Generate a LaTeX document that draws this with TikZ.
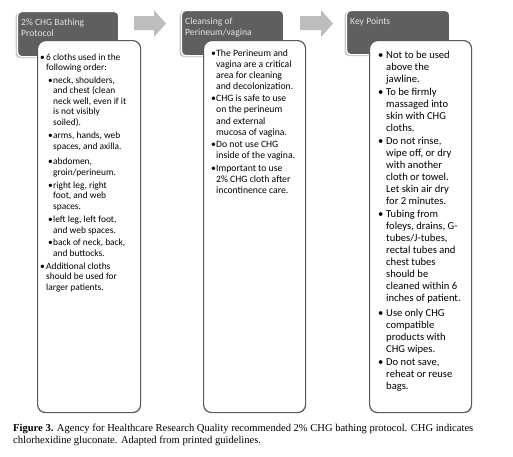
\documentclass[tikz,border=0pt]{standalone}
\usepackage{fontspec}
\setmainfont{Liberation Serif}
\newfontfamily\cfont{Carlito}
\definecolor{hdrgray}{HTML}{5F5F5F}
\definecolor{hdrtext}{HTML}{E4E4E4}
\definecolor{boxline}{HTML}{595959}
\definecolor{arrowgray}{HTML}{BDBDBD}
\definecolor{shadowgray}{HTML}{C8C8C8}
\newcommand\fstrut{\rule{0pt}{8pt}}
\newcommand\bA[1]{\makebox[6pt][l]{\textbullet}#1}
\newcommand\cA[1]{\hspace*{6pt}#1}
\newcommand\bB[1]{\hspace*{8pt}\makebox[5pt][l]{\textbullet}#1}
\newcommand\cB[1]{\hspace*{13pt}#1}
\newcommand\bC[1]{\makebox[8pt][l]{\textbullet}#1}
\newcommand\cC[1]{\hspace*{8pt}#1}
\begin{document}
\begin{tikzpicture}[x=1pt,y=-1pt,
  hdr/.style={fill=hdrgray, draw=white, line width=1.2pt, rounded corners=4pt, anchor=north west, inner sep=0pt},
  hdrshadow/.style={fill=shadowgray, rounded corners=4pt},
  hdrlabel/.style={anchor=north west, inner sep=0pt, align=left, text=hdrtext, font=\cfont\fontsize{9.6}{10.8}\selectfont},
  bodybox/.style={fill=white, draw=boxline, line width=1.2pt, rounded corners=8pt, anchor=north west, inner sep=0pt},
  bodytext/.style={anchor=north west, inner sep=0pt, align=left, text=black},
  caption/.style={anchor=north west, inner sep=0pt, align=left, font=\fontsize{10.55}{12}\selectfont}]
\useasboundingbox (0,0) rectangle (513,456);
\fill[white] (0,0) rectangle (513,456);

% header boxes with soft shadow
\fill[hdrshadow] (15.5,12.5) rectangle (117,58);
\node[hdr, minimum width=101pt, minimum height=45pt] (h1) at (17,11) {};
\fill[hdrshadow] (179.5,11.5) rectangle (282,57);
\node[hdr, minimum width=102pt, minimum height=45pt] (h2) at (181,10) {};
\fill[hdrshadow] (344.5,11.5) rectangle (448,56);
\node[hdr, minimum width=103pt, minimum height=44pt] (h3) at (346,10) {};

\node[hdrlabel] (h1t) at (21,17) {\fstrut 2\% CHG Bathing\\Protocol};
\node[hdrlabel] (h2t) at (185,16) {\fstrut Cleansing of\\Perineum/vagina};
\node[hdrlabel] (h3t) at (350,16) {\fstrut Key Points};

% block arrows
\fill[arrowgray] (134,16) -- (154,16) -- (154,10) -- (166,23.5) -- (154,37) -- (154,30) -- (134,30) -- cycle;
\fill[arrowgray] (300,16) -- (321,16) -- (321,10) -- (333,23.5) -- (321,37) -- (321,30) -- (300,30) -- cycle;

% body boxes
\node[bodybox, minimum width=103pt, minimum height=372pt] (b1) at (37,40) {};
\node[bodybox, minimum width=102pt, minimum height=372pt] (b2) at (203,40) {};
\node[bodybox, minimum width=102pt, minimum height=372pt] (b3) at (369,40) {};

\node[bodytext, font=\cfont\fontsize{9.4}{10.6}\selectfont] (t1) at (40,52) {%
\fstrut\bA{6 cloths used in the}\\
\cA{following order:}\\[1.6pt]
\bB{neck, shoulders,}\\
\cB{and chest (clean}\\
\cB{neck well, even if it}\\
\cB{is not visibly}\\
\cB{soiled).}\\[2.4pt]
\bB{arms, hands, web}\\
\cB{spaces, and axilla.}\\[5pt]
\bB{abdomen,}\\
\cB{groin/perineum.}\\[2.4pt]
\bB{right leg, right}\\
\cB{foot, and web}\\
\cB{spaces.}\\[2.8pt]
\bB{left leg, left foot,}\\
\cB{and web spaces.}\\[1.6pt]
\bB{back of neck, back,}\\
\cB{and buttocks.}\\[2.4pt]
\bA{Additional cloths}\\
\cA{should be used for}\\
\cA{larger patients.}};

\node[bodytext, font=\cfont\fontsize{9.7}{11.1}\selectfont] (t2) at (211,48) {%
\fstrut\makebox[5pt][l]{\textbullet}The Perineum and\\
\hspace*{5pt}vagina are a critical\\
\hspace*{5pt}area for cleaning\\
\hspace*{5pt}and decolonization.\\[1.2pt]
\makebox[5pt][l]{\textbullet}CHG is safe to use\\
\hspace*{5pt}on the perineum\\
\hspace*{5pt}and external\\
\hspace*{5pt}mucosa of vagina.\\[1.6pt]
\makebox[5pt][l]{\textbullet}Do not use CHG\\
\hspace*{5pt}inside of the vagina.\\[1.4pt]
\makebox[5pt][l]{\textbullet}Important to use\\
\hspace*{5pt}2\% CHG cloth after\\
\hspace*{5pt}incontinence care.};

\node[bodytext, font=\cfont\fontsize{10.6}{12.0}\selectfont] (t3) at (378,50) {%
\fstrut\bC{Not to be used}\\
\cC{above the}\\
\cC{jawline.}\\[1pt]
\bC{To be firmly}\\
\cC{massaged into}\\
\cC{skin with CHG}\\
\cC{cloths.}\\[1pt]
\bC{Do not rinse,}\\
\cC{wipe off, or dry}\\
\cC{with another}\\
\cC{cloth or towel.}\\
\cC{Let skin air dry}\\
\cC{for 2 minutes.}\\[1.6pt]
\bC{Tubing from}\\
\cC{foleys, drains, G-}\\
\cC{tubes/J-tubes,}\\
\cC{rectal tubes and}\\
\cC{chest tubes}\\
\cC{should be}\\
\cC{cleaned within 6}\\
\cC{inches of patient.}\\[2.4pt]
\bC{Use only CHG}\\
\cC{compatible}\\
\cC{products with}\\
\cC{CHG wipes.}\\[1.4pt]
\bC{Do not save,}\\
\cC{reheat or reuse}\\
\cC{bags.}};

% caption
\node[caption] (cap) at (13,423) {\fstrut\textbf{Figure 3.} Agency for Healthcare Research Quality recommended 2\% CHG bathing protocol. CHG indicates\\chlorhexidine gluconate. Adapted from printed guidelines.};
\end{tikzpicture}
\end{document}
